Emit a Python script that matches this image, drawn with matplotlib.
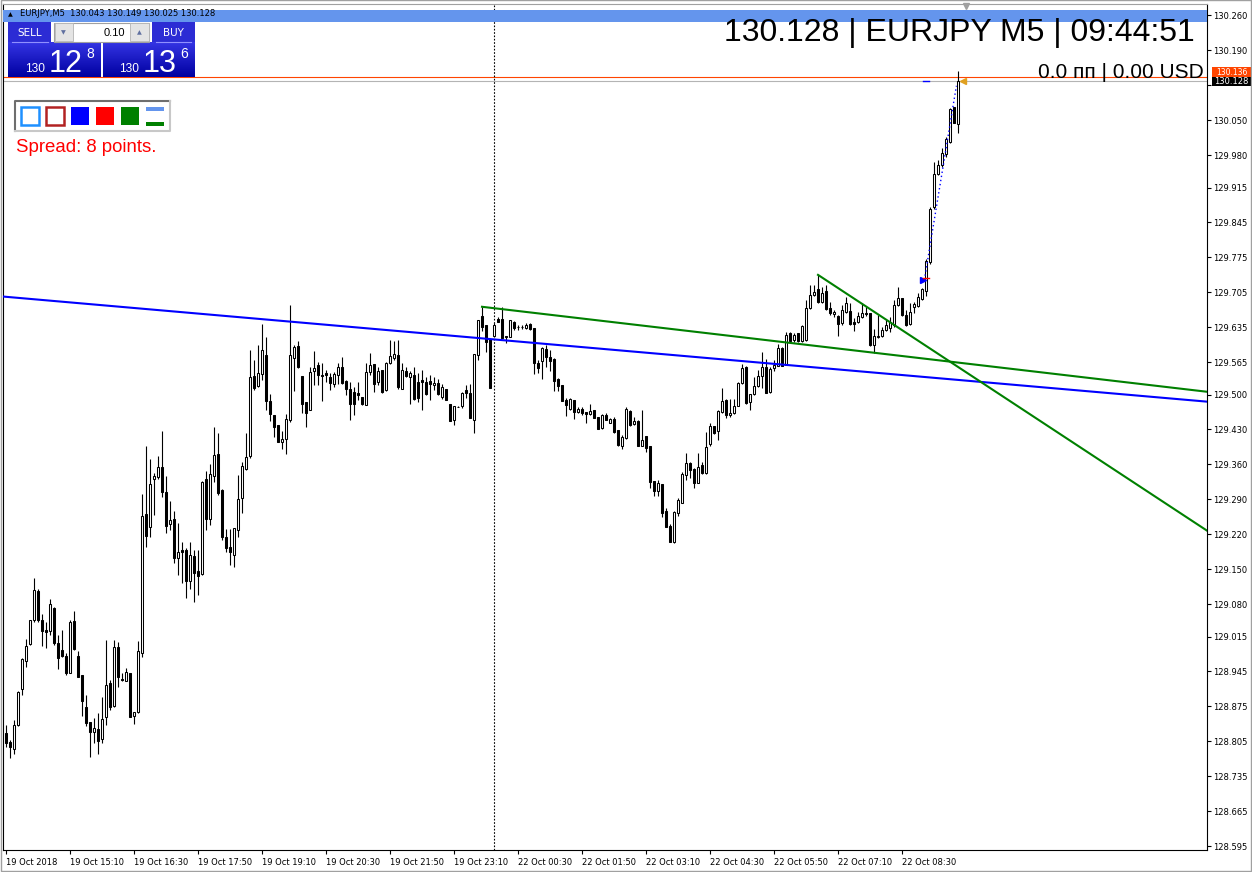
import numpy as np
import matplotlib
matplotlib.use('Agg')
import matplotlib.pyplot as plt
from matplotlib.patches import Rectangle
from matplotlib.colors import LinearSegmentedColormap

plt.rcParams['font.family'] = ['DejaVu Sans']

# EURJPY M5 candles, bar 0 = 19 Oct 13:50 ... bar 238 = 22 Oct 09:40
opens = [
    128.822, 128.804, 128.789, 128.837, 128.909, 128.966, 128.999, 129.048, 129.106, 129.048,
    129.028, 129.026, 129.073, 129.002, 128.988, 128.976, 128.942, 129.046, 128.976, 128.938,
    128.874, 128.843, 128.824, 128.829, 128.809, 128.853, 128.921, 128.876, 128.993, 128.930,
    128.926, 128.941, 128.856, 128.863, 128.982, 129.260, 129.235, 129.330, 129.334, 129.354,
    129.304, 129.240, 129.251, 129.173, 129.189, 129.189, 129.127, 129.177, 129.146, 129.140,
    129.331, 129.251, 129.336, 129.381, 129.309, 129.214, 129.195, 129.179, 129.229, 129.293,
    129.350, 129.376, 129.537, 129.518, 129.541, 129.579, 129.487, 129.459, 129.439, 129.404,
    129.410, 129.449, 129.573, 129.597, 129.537, 129.486, 129.470, 129.548, 129.559, 129.539,
    129.544, 129.536, 129.522, 129.539, 129.555, 129.527, 129.512, 129.506, 129.504, 129.496,
    129.480, 129.546, 129.561, 129.526, 129.549, 129.509, 129.563, 129.573, 129.579, 129.512,
    129.548, 129.536, 129.539, 129.526, 129.529, 129.526, 129.527, 129.519, 129.524, 129.496,
    129.512, 129.482, 129.449, 129.476, 129.477, 129.510, 129.504, 129.449, 129.579, 129.657,
    129.639, 129.611, 129.618, 129.651, 129.651, 129.617, 129.616, 129.645, 129.636, 129.636,
    129.633, 129.641, 129.633, 129.564, 129.568, 129.591, 129.575, 129.571, 129.531, 129.519,
    129.490, 129.472, 129.490, 129.466, 129.472, 129.465, 129.461, 129.469, 129.456, 129.432,
    129.460, 129.444, 129.452, 129.428, 129.396, 129.412, 129.467, 129.442, 129.448, 129.396,
    129.417, 129.396, 129.327, 129.307, 129.321, 129.267, 129.237, 129.205, 129.263, 129.283,
    129.339, 129.362, 129.350, 129.323, 129.358, 129.342, 129.400, 129.437, 129.426, 129.466,
    129.490, 129.459, 129.464, 129.478, 129.524, 129.555, 129.486, 129.501, 129.518, 129.538,
    129.556, 129.506, 129.553, 129.558, 129.593, 129.559, 129.623, 129.609, 129.623, 129.607,
    129.609, 129.673, 129.700, 129.711, 129.686, 129.708, 129.673, 129.661, 129.658, 129.643,
    129.666, 129.668, 129.646, 129.646, 129.655, 129.664, 129.663, 129.599, 129.615, 129.617,
    129.629, 129.633, 129.639, 129.680, 129.693, 129.660, 129.641, 129.675, 129.678, 129.691,
    129.708, 129.765, 129.877, 129.942, 129.960, 129.982, 130.007, 130.076, 130.043,
]
highs = [
    128.837, 128.807, 128.847, 128.906, 128.971, 129.010, 129.049, 129.133, 129.111, 129.061,
    129.044, 129.091, 129.075, 129.018, 129.029, 128.981, 129.048, 129.066, 128.986, 128.938,
    128.898, 128.843, 128.851, 128.861, 128.894, 129.008, 128.928, 129.008, 129.004, 128.941,
    128.952, 128.941, 128.864, 129.006, 129.300, 129.396, 129.371, 129.342, 129.377, 129.427,
    129.336, 129.287, 129.267, 129.243, 129.205, 129.192, 129.204, 129.189, 129.189, 129.327,
    129.346, 129.361, 129.436, 129.422, 129.310, 129.230, 129.230, 129.233, 129.338, 129.364,
    129.422, 129.589, 129.569, 129.599, 129.641, 129.616, 129.501, 129.459, 129.439, 129.427,
    129.462, 129.680, 129.599, 129.608, 129.537, 129.486, 129.556, 129.588, 129.566, 129.563,
    129.549, 129.543, 129.546, 129.563, 129.575, 129.529, 129.526, 129.516, 129.526, 129.496,
    129.563, 129.583, 129.561, 129.556, 129.549, 129.566, 129.609, 129.608, 129.609, 129.563,
    129.556, 129.548, 129.556, 129.544, 129.549, 129.536, 129.539, 129.535, 129.532, 129.521,
    129.512, 129.482, 129.477, 129.477, 129.506, 129.519, 129.521, 129.581, 129.649, 129.676,
    129.639, 129.611, 129.643, 129.656, 129.675, 129.617, 129.649, 129.648, 129.639, 129.639,
    129.644, 129.643, 129.633, 129.569, 129.596, 129.599, 129.589, 129.573, 129.533, 129.519,
    129.494, 129.494, 129.490, 129.476, 129.476, 129.465, 129.481, 129.469, 129.456, 129.462,
    129.464, 129.454, 129.456, 129.429, 129.419, 129.476, 129.469, 129.456, 129.449, 129.469,
    129.417, 129.396, 129.327, 129.329, 129.321, 129.272, 129.240, 129.267, 129.292, 129.345,
    129.382, 129.364, 129.352, 129.382, 129.364, 129.424, 129.444, 129.437, 129.469, 129.514,
    129.492, 129.492, 129.492, 129.526, 129.561, 129.557, 129.502, 129.535, 129.549, 129.586,
    129.571, 129.555, 129.569, 129.601, 129.596, 129.626, 129.626, 129.624, 129.624, 129.639,
    129.690, 129.720, 129.720, 129.740, 129.716, 129.720, 129.686, 129.670, 129.660, 129.680,
    129.696, 129.683, 129.653, 129.666, 129.683, 129.676, 129.663, 129.631, 129.660, 129.636,
    129.649, 129.656, 129.690, 129.715, 129.693, 129.670, 129.683, 129.685, 129.704, 129.714,
    129.771, 129.877, 129.967, 129.970, 129.994, 130.017, 130.074, 130.077, 130.149,
]
lows = [
    128.794, 128.771, 128.779, 128.835, 128.898, 128.954, 128.998, 129.044, 129.044, 128.996,
    128.991, 129.018, 128.998, 128.949, 128.974, 128.938, 128.941, 128.988, 128.934, 128.855,
    128.835, 128.774, 128.801, 128.779, 128.801, 128.837, 128.867, 128.874, 128.914, 128.926,
    128.926, 128.853, 128.839, 128.861, 128.974, 129.194, 129.215, 129.259, 129.330, 129.295,
    129.222, 129.229, 129.163, 129.138, 129.122, 129.092, 129.111, 129.084, 129.098, 129.138,
    129.229, 129.239, 129.325, 129.299, 129.209, 129.185, 129.158, 129.154, 129.214, 129.262,
    129.349, 129.372, 129.509, 129.516, 129.529, 129.469, 129.448, 129.414, 129.404, 129.390,
    129.381, 129.446, 129.508, 129.553, 129.464, 129.434, 129.469, 129.519, 129.519, 129.488,
    129.526, 129.509, 129.516, 129.521, 129.522, 129.499, 129.450, 129.459, 129.489, 129.480,
    129.480, 129.539, 129.506, 129.519, 129.504, 129.508, 129.561, 129.569, 129.512, 129.511,
    129.536, 129.482, 129.489, 129.486, 129.470, 129.499, 129.489, 129.509, 129.499, 129.492,
    129.489, 129.448, 129.440, 129.475, 129.474, 129.494, 129.454, 129.422, 129.569, 129.627,
    129.586, 129.513, 129.616, 129.646, 129.613, 129.603, 129.615, 129.629, 129.629, 129.632,
    129.631, 129.629, 129.541, 129.543, 129.531, 129.556, 129.548, 129.508, 129.508, 129.488,
    129.458, 129.469, 129.452, 129.464, 129.459, 129.444, 129.459, 129.454, 129.430, 129.430,
    129.449, 129.444, 129.422, 129.397, 129.391, 129.411, 129.438, 129.439, 129.396, 129.396,
    129.384, 129.312, 129.297, 129.297, 129.255, 129.234, 129.205, 129.202, 129.257, 129.283,
    129.329, 129.332, 129.313, 129.322, 129.341, 129.340, 129.397, 129.421, 129.408, 129.464,
    129.454, 129.456, 129.462, 129.477, 129.522, 129.482, 129.469, 129.499, 129.516, 129.514,
    129.504, 129.504, 129.548, 129.557, 129.558, 129.559, 129.605, 129.606, 129.606, 129.606,
    129.608, 129.671, 129.698, 129.684, 129.684, 129.670, 129.660, 129.656, 129.617, 129.639,
    129.664, 129.639, 129.628, 129.643, 129.653, 129.658, 129.597, 129.583, 129.613, 129.616,
    129.628, 129.626, 129.636, 129.678, 129.658, 129.637, 129.639, 129.663, 129.676, 129.690,
    129.698, 129.762, 129.873, 129.940, 129.957, 129.977, 130.004, 130.044, 130.025,
]
closes = [
    128.802, 128.793, 128.837, 128.904, 128.969, 128.996, 129.048, 129.109, 129.049, 129.026,
    129.025, 129.080, 129.002, 128.972, 128.976, 128.941, 129.044, 128.989, 128.934, 128.886,
    128.842, 128.824, 128.831, 128.806, 128.849, 128.918, 128.874, 128.993, 128.933, 128.927,
    128.943, 128.854, 128.863, 128.986, 129.256, 129.217, 129.320, 129.336, 129.354, 129.305,
    129.237, 129.249, 129.173, 129.184, 129.185, 129.127, 129.179, 129.143, 129.137, 129.325,
    129.251, 129.341, 129.379, 129.302, 129.215, 129.192, 129.185, 129.232, 129.290, 129.356,
    129.374, 129.535, 129.513, 129.543, 129.589, 129.488, 129.461, 129.436, 129.404, 129.410,
    129.451, 129.579, 129.595, 129.555, 129.482, 129.464, 129.545, 129.553, 129.539, 129.538,
    129.539, 129.524, 129.541, 129.556, 129.524, 129.512, 129.482, 129.482, 129.499, 129.482,
    129.545, 129.559, 129.522, 129.548, 129.506, 129.563, 129.577, 129.581, 129.516, 129.549,
    129.537, 129.543, 129.492, 129.494, 129.526, 129.501, 129.522, 129.524, 129.501, 129.516,
    129.490, 129.448, 129.477, 129.476, 129.504, 129.504, 129.454, 129.581, 129.649, 129.636,
    129.606, 129.513, 129.639, 129.646, 129.613, 129.616, 129.649, 129.633, 129.635, 129.636,
    129.639, 129.631, 129.563, 129.554, 129.593, 129.575, 129.568, 129.528, 129.518, 129.488,
    129.479, 129.491, 129.466, 129.472, 129.464, 129.461, 129.467, 129.454, 129.430, 129.460,
    129.450, 129.452, 129.424, 129.398, 129.414, 129.471, 129.440, 129.448, 129.396, 129.409,
    129.392, 129.325, 129.307, 129.323, 129.263, 129.235, 129.205, 129.264, 129.289, 129.341,
    129.362, 129.349, 129.322, 129.354, 129.342, 129.394, 129.438, 129.422, 129.468, 129.488,
    129.459, 129.464, 129.478, 129.524, 129.553, 129.484, 129.501, 129.518, 129.538, 129.556,
    129.504, 129.551, 129.559, 129.593, 129.558, 129.619, 129.607, 129.619, 129.607, 129.637,
    129.673, 129.700, 129.706, 129.686, 129.703, 129.671, 129.664, 129.666, 129.641, 129.670,
    129.683, 129.641, 129.641, 129.658, 129.663, 129.662, 129.599, 129.617, 129.617, 129.629,
    129.639, 129.646, 129.680, 129.693, 129.660, 129.639, 129.666, 129.681, 129.696, 129.711,
    129.768, 129.873, 129.942, 129.960, 129.984, 130.012, 130.072, 130.045, 130.128,
]

tick_bars = [0, 16, 32, 48, 64, 80, 96, 112, 128, 144, 160, 176, 192, 208, 224]
tick_labels = ['19 Oct 2018', '19 Oct 15:10', '19 Oct 16:30', '19 Oct 17:50', '19 Oct 19:10',
               '19 Oct 20:30', '19 Oct 21:50', '19 Oct 23:10', '22 Oct 00:30', '22 Oct 01:50',
               '22 Oct 03:10', '22 Oct 04:30', '22 Oct 05:50', '22 Oct 07:10', '22 Oct 08:30']
price_ticks = [130.260, 130.190, 130.120, 130.050, 129.980, 129.915, 129.845, 129.775,
               129.705, 129.635, 129.565, 129.500, 129.430, 129.360, 129.290, 129.220,
               129.150, 129.080, 129.015, 128.945, 128.875, 128.805, 128.735, 128.665, 128.595]

blue_trend_bars = [0, 300]
blue_trend_prices = [129.696, 129.486]
green_trend1_bars = [119, 302]
green_trend1_prices = [129.676, 129.504]
green_trend2_bars = [203, 302]
green_trend2_prices = [129.740, 129.218]
separator_bar = 122
bid, ask = 130.128, 130.136
trade_bars = [229.6, 237.6]
trade_prices = [129.730, 130.119]
stop_price = 129.734

W, H = 1252, 872
fig = plt.figure(figsize=(W / 100, H / 100), dpi=100, facecolor='white')
ax = fig.add_axes([3 / W, 22 / H, 1204 / W, 846 / H])
ax.set_xlim(-0.75, 300.25)
ax.set_ylim(128.587, 130.283)

o = np.array(opens); h = np.array(highs); l = np.array(lows); c = np.array(closes)
x = np.arange(len(o))
up = c >= o

# bid / ask lines, separator
ax.axhline(bid, color='#b4b4b4', lw=0.8, zorder=1)
ax.axhline(ask, color='#ff4500', lw=0.8, zorder=1)
ax.axvline(separator_bar, color='black', lw=0.8, ls=(0, (1.5, 1.5)), zorder=1)

# candles
ax.vlines(x, l, h, color='black', lw=0.8, zorder=3)
ax.bar(x[up], c[up] - o[up], bottom=o[up], width=0.62, facecolor='white',
       edgecolor='black', lw=0.75, zorder=4)
ax.bar(x[~up], c[~up] - o[~up], bottom=o[~up], width=0.62, facecolor='black',
       edgecolor='black', lw=0.75, zorder=4)

# trendlines
ax.axline((blue_trend_bars[0], blue_trend_prices[0]), (blue_trend_bars[1], blue_trend_prices[1]),
          color='#0000ff', lw=1.5, zorder=5)
ax.plot(green_trend1_bars, green_trend1_prices, color='#008000', lw=1.5, zorder=5)
ax.plot(green_trend2_bars, green_trend2_prices, color='#008000', lw=1.5, zorder=5)

# trade history marks
ax.plot(trade_bars, trade_prices, color='#0000ff', lw=1, ls=(0, (1, 2)), zorder=6)
ax.plot(trade_bars[0] - 0.4, trade_prices[0], marker='>', color='#0000ff', ms=4, zorder=6)
ax.plot([229.2, 230.8], [stop_price, stop_price], color='red', lw=1, zorder=6)
ax.plot([229.2, 230.8], [bid, bid], color='#0000ff', lw=1, zorder=6)
ax.plot(len(o) + 0.2, bid, marker='<', color='#e0a020', ms=4, zorder=6, clip_on=False)

# axes (the 130.120 label sits under the bid price box)
ax.yaxis.tick_right()
ax.set_yticks(price_ticks)
ax.set_yticklabels([('' if abs(p - bid) < 0.01 else f'{p:.3f}') for p in price_ticks])
ax.tick_params(axis='y', direction='out', length=3, width=0.8, labelsize=6, pad=1.5)
ax.set_xticks(tick_bars)
ax.set_xticklabels(tick_labels, ha='left')
ax.tick_params(axis='x', direction='out', length=3, width=0.8, labelsize=6, pad=3)
for s in ax.spines.values():
    s.set_color('black'); s.set_linewidth(0.8)
ax.spines['top'].set_color('#a0a0a0')

# overlay in pixel coordinates
ov = fig.add_axes([0, 0, 1, 1])
ov.set_xlim(0, W)
ov.set_ylim(H, 0)
ov.axis('off')


def box(x0, y0, x1, y1, **kw):
    ov.add_patch(Rectangle((x0, y0), x1 - x0, y1 - y0, **kw))


LIB = 'Liberation Sans'

# header band
box(3, 10, 1207, 22, fc='#6495ed', ec='none', zorder=1)
ov.text(8, 16.5, '\u25b2', fontsize=4.5, va='baseline', zorder=2)
ov.text(20, 16.5, f'EURJPY,M5  {o[-1]:.3f} {h[-1]:.3f} {l[-1]:.3f} {c[-1]:.3f}',
        fontsize=6, va='baseline', zorder=2)
ov.plot(966, 6, marker='v', color='#a0a0a0', ms=5)

# top-right info
ov.text(1195, 40.5, f'{bid:.3f} | EURJPY M5 | 09:44:51', ha='right', va='baseline',
        fontsize=23, family=LIB, zorder=3)
ov.text(1204, 78, '0.0 пп | 0.00 USD', ha='right', va='baseline', fontsize=15,
        family=LIB, zorder=3)

# trade panel
tab = '#2c2cd4'
grad = np.linspace(0, 1, 64).reshape(-1, 1)
cm = LinearSegmentedColormap.from_list('btn', ['#3434e4', '#0000a0'])
box(8, 22, 51, 43, fc=tab, ec='none', zorder=2)
box(152, 22, 194.5, 43, fc=tab, ec='none', zorder=2)
ov.imshow(grad, extent=[8, 100.5, 77.5, 43], cmap=cm, aspect='auto', zorder=2)
ov.imshow(grad, extent=[103, 194.5, 77.5, 43], cmap=cm, aspect='auto', zorder=2)
ov.plot([12, 48], [42, 42], color='#9090ff', lw=0.8, zorder=3)
ov.plot([156, 191], [42, 42], color='#9090ff', lw=0.8, zorder=3)
ov.text(29.5, 32.5, 'SELL', ha='center', va='center', color='white', fontsize=7.5, zorder=3)
ov.text(173, 32.5, 'BUY', ha='center', va='center', color='white', fontsize=7.5, zorder=3)
box(54, 23, 149, 42, fc='white', ec='#a0a0a0', lw=0.8, zorder=2)
box(54.5, 23.5, 72.5, 41.5, fc='#e4e4e4', ec='#b4b4b4', lw=0.6, zorder=3)
box(129.5, 23.5, 148.5, 41.5, fc='#e4e4e4', ec='#b4b4b4', lw=0.6, zorder=3)
ov.text(63.5, 32.5, '\u25bc', ha='center', va='center', fontsize=4.5, color='#6070a0', zorder=4)
ov.text(139, 32.5, '\u25b2', ha='center', va='center', fontsize=4.5, color='#6070a0', zorder=4)
ov.text(125, 32.5, '0.10', ha='right', va='center', fontsize=8, family=LIB, zorder=4)

bid_s, ask_s = f'{bid:.3f}', f'{ask:.3f}'
for s, x0 in [(bid_s, 25), (ask_s, 119)]:
    ov.text(x0, 71.7, s[:3], fontsize=8.6, color='white', family=LIB, va='baseline', zorder=4)
    ov.text(x0 + 24, 72.3, s[4:6], fontsize=22, color='white', family=LIB, va='baseline', zorder=4)
    ov.text(x0 + 61, 58, s[6], fontsize=10, color='white', family=LIB, va='baseline', zorder=4)

# colour legend box
ov.plot([15, 15, 170], [131, 101, 101], color='#6e6e6e', lw=1.5, zorder=2)
ov.plot([15, 170, 170], [131, 131, 101], color='#c8c8c8', lw=1.5, zorder=2)
box(21, 107, 39, 125, fc='white', ec='#1e90ff', lw=1.8, zorder=3)
box(46, 107, 64, 125, fc='white', ec='#b22222', lw=1.8, zorder=3)
box(71, 107, 89, 125, fc='#0000ff', ec='none', zorder=3)
box(96, 107, 114, 125, fc='#ff0000', ec='none', zorder=3)
box(121, 107, 139, 125, fc='#008000', ec='none', zorder=3)
box(146, 107, 164, 111, fc='#6495ed', ec='none', zorder=3)
box(146, 122, 164, 126, fc='#008000', ec='none', zorder=3)
spread = round((ask - bid) * 1000)
ov.text(15.5, 152.5, f'Spread: {spread} points.', color='#ff0000', fontsize=13.4,
        family=LIB, va='baseline', zorder=3)

# price labels on the axis (ask box just above the bid box)
box(1212, 67.5, 1251, 77, fc='#ff4500', ec='none', zorder=6)
ov.text(1231.5, 72.3, ask_s, color='white', fontsize=5.5, ha='center', va='center', zorder=6)
box(1212, 77, 1251, 86.5, fc='black', ec='none', zorder=7)
ov.text(1231.5, 81.8, bid_s, color='white', fontsize=6, ha='center', va='center', zorder=8)

# window frame
box(0.5, 0.5, 1251, 871, fc='none', ec='#a0a0a0', lw=1, zorder=9)

fig.savefig('out.png', dpi=100, facecolor='white')
